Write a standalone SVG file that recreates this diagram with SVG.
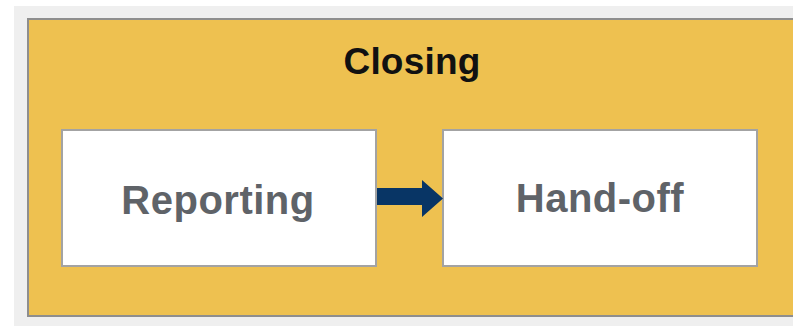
<svg xmlns="http://www.w3.org/2000/svg" width="793" height="326" viewBox="0 0 793 326">
  <defs>
    <style>
      .stage { fill: #eec150; stroke: #8e8e8e; stroke-width: 2; }
      .step { fill: #ffffff; stroke: #a3a3a3; stroke-width: 2; }
      .title { font-family: "Liberation Sans", Arial, sans-serif; font-weight: bold; font-size: 37px; fill: #111111; text-anchor: middle; letter-spacing: 0.2px; }
      .label { font-family: "Liberation Sans", Arial, sans-serif; font-weight: bold; font-size: 40px; fill: #5f6368; text-anchor: middle; letter-spacing: 0.5px; }
      .flow { fill: #083565; }
    </style>
  </defs>

  <!-- page background -->
  <rect x="0" y="0" width="793" height="326" fill="#ffffff"/>
  <rect x="14" y="6" width="779" height="320" fill="#efefef"/>

  <!-- phase container -->
  <g id="closing">
    <rect class="stage" x="28" y="19" width="775" height="297"/>
    <text class="title" x="412" y="74">Closing</text>
  </g>

  <g id="reporting">
    <rect class="step" x="62" y="130" width="314" height="136"/>
    <text class="label" x="218" y="214">Reporting</text>
  </g>

  <g id="handoff">
    <rect class="step" x="443" y="130" width="314" height="136"/>
    <text class="label" x="600" y="212">Hand-off</text>
  </g>

  <!-- connectors -->
  <g id="connectors">
    <polygon class="flow" points="377,188 422,188 422,180 443,198.5 422,217 422,205 377,205"/>
  </g>
</svg>
